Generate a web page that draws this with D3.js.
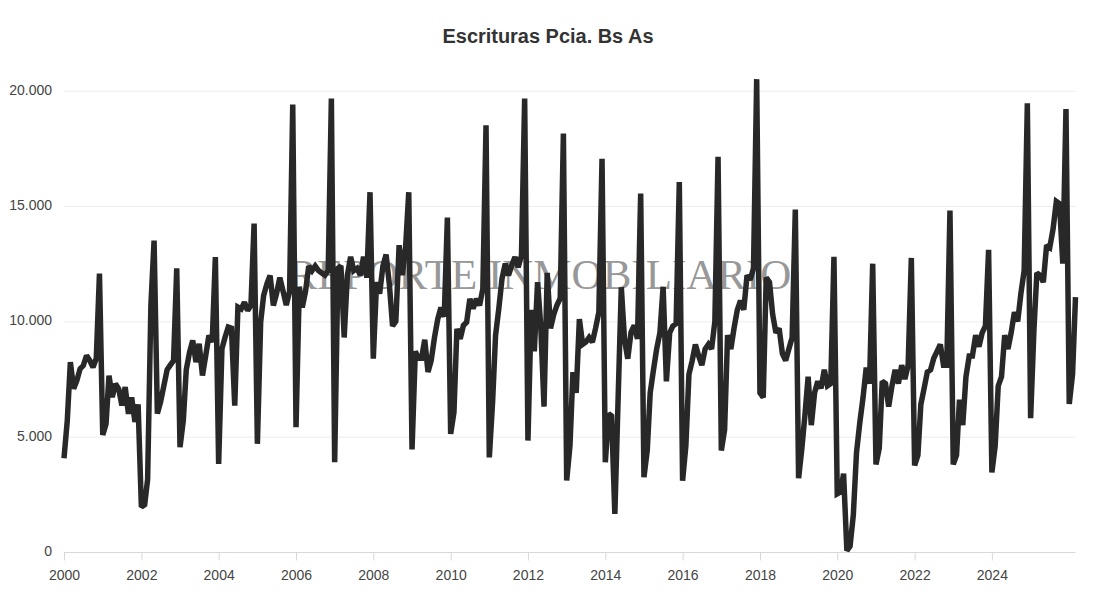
<!DOCTYPE html>
<html>
<head>
<meta charset="utf-8">
<script src="https://cdn.jsdelivr.net/npm/d3@7"></script>
<style>
  html, body { margin: 0; padding: 0; background: #ffffff; }
  svg { display: block; }
</style>
</head>
<body>
<svg id="chart" width="1095" height="607"></svg>
<script>
// ---- Data (monthly, Jan 2000 – Mar 2026) ----
const title = "Escrituras Pcia. Bs As";
const watermark = "REPORTE INMOBILIARIO";
const startYear = 2000;
const startMonth = 0; // January
const yTicks = [0, 5000, 10000, 15000, 20000];
const xTickYears = [2000, 2002, 2004, 2006, 2008, 2010, 2012, 2014, 2016, 2018, 2020, 2022, 2024];

const v2000_2004 = [
  4060, 5700, 8230, 7080, 7430, 7940, 8080, 8520, 8300, 8010, 8390, 12070,
  5080, 5550, 7650, 6710, 7290, 7070, 6350, 7150, 5990, 6700, 5640, 6400,
  1950, 2050, 3150, 10700, 13500, 6000, 6500, 7200, 7900, 8100, 8300, 12300,
  4540, 5700, 7900, 8660, 9170, 8230, 9030, 7650, 8520, 9390, 9100, 12790,
  3820, 8810, 9300, 9750, 9700, 6350, 10620, 10540, 10830, 10470, 10690, 14240
];
const v2005_2009 = [
  4690, 9960, 11120, 11630, 11990, 10690, 11200, 11900, 11300, 10700, 11300, 19400,
  5410, 11500, 10600, 11300, 12400, 12200, 12400, 12200, 12100, 12000, 12200, 19660,
  3890, 12300, 12400, 9300, 12000, 12800, 12200, 12300, 12000, 12800, 11900, 15600,
  8380, 11700, 11200, 12400, 12900, 11600, 9800, 10000, 13300, 12000, 13200, 15600,
  4450, 8700, 8400, 8400, 9200, 7800, 8300, 9300, 10100, 10600, 10200, 14500
];
const v2010_2014 = [
  5120, 6060, 9680, 9240, 9820, 9960, 10980, 10550, 10980, 10690, 11410, 18500,
  4100, 6500, 9390, 10560, 11850, 12500, 11990, 12430, 12790, 12350, 12860, 19660,
  4830, 10500, 8700, 11700, 9800, 6300, 12100, 9700, 10300, 10700, 11000, 18140,
  3100, 4600, 7800, 6900, 10100, 9000, 9100, 9300, 9100, 9700, 10400, 17050,
  3890, 5990, 5900, 1650, 6500, 11480, 9240, 8380, 9530, 9820, 9240, 15540
];
const v2015_2019 = [
  3240, 4400, 6900, 7900, 8800, 9500, 11500, 7400, 9500, 9800, 9900, 16040,
  3090, 4600, 7700, 8300, 9000, 8500, 8100, 8800, 9000, 8800, 10000, 17130,
  4400, 5300, 9400, 8800, 9700, 10500, 10900, 10500, 12000, 11800, 12300, 20500,
  6900, 6700, 11900, 11700, 10300, 9500, 9700, 8600, 8300, 8800, 9300, 14850,
  3200, 4500, 5900, 7600, 5500, 6900, 7400, 7100, 7900, 7200, 7300, 12800
];
const v2020_2026 = [
  2520, 2600, 3400, 60, 250, 1600, 4300, 5600, 6700, 8000, 7300, 12500,
  3800, 4500, 7400, 7300, 6300, 7200, 7900, 7300, 8100, 7500, 8100, 12750,
  3750, 4200, 6400, 7100, 7800, 7900, 8400, 8700, 9000, 8100, 8100, 14800,
  3800, 4200, 6600, 5500, 7600, 8500, 8500, 9400, 8900, 9500, 9800, 13100,
  3450, 4600, 7200, 7600, 9400, 8800, 9500, 10400, 10000, 11200, 12200, 19450,
  5800, 9600, 12100, 12000, 11700, 13300, 13200, 14000, 15200, 15100, 12500, 19200,
  6420, 7700, 11050
];

const values = [].concat(v2000_2004, v2005_2009, v2010_2014, v2015_2019, v2020_2026);
const data = values.map((v, i) => ({ date: new Date(startYear, startMonth + i, 1), value: v }));

// ---- Layout ----
const svg = d3.select("#chart");
const W = 1095, H = 607;
const plot = { left: 64, right: 1075.5, top: 90.7, bottom: 552 };

svg.append("rect").attr("width", W).attr("height", H).attr("fill", "#ffffff");

const x = d3.scaleTime()
  .domain([data[0].date, data[data.length - 1].date])
  .range([plot.left, plot.right]);
const y = d3.scaleLinear()
  .domain([0, 20000])
  .range([plot.bottom, plot.top]);

const fmt = v => d3.format(",")(v).replace(/,/g, ".");

// gridlines
svg.append("g").selectAll("line")
  .data(yTicks.filter(t => t > 0))
  .join("line")
  .attr("x1", plot.left).attr("x2", plot.right)
  .attr("y1", d => y(d) + 0.5).attr("y2", d => y(d) + 0.5)
  .attr("stroke", "#ececec").attr("stroke-width", 1);

// y labels
svg.append("g").selectAll("text")
  .data(yTicks)
  .join("text")
  .attr("x", 52)
  .attr("y", d => y(d) + 4)
  .attr("text-anchor", "end")
  .attr("font-family", "Liberation Sans, Arial, sans-serif")
  .attr("font-size", 14)
  .attr("fill", "#444")
  .text(d => fmt(d));

// x axis
const xAxis = d3.axisBottom(x)
  .tickValues(xTickYears.map(yr => new Date(yr, 0, 1)))
  .tickFormat(d3.timeFormat("%Y"))
  .tickSize(8)
  .tickPadding(10);
const gx = svg.append("g")
  .attr("transform", `translate(0,${plot.bottom + 0.5})`)
  .call(xAxis);
gx.select(".domain").attr("stroke", "#d8d8d8").attr("d", `M${plot.left},0H${plot.right}`);
gx.selectAll(".tick line").attr("stroke", "#d8d8d8");
gx.selectAll(".tick text")
  .attr("font-family", "Liberation Sans, Arial, sans-serif")
  .attr("font-size", 14)
  .attr("fill", "#444");

// watermark (under the line)
svg.append("text")
  .attr("x", 540)
  .attr("y", 289)
  .attr("text-anchor", "middle")
  .attr("font-family", "Liberation Serif, Times New Roman, serif")
  .attr("font-size", 43)
  .attr("fill", "#8a8a8a")
  .attr("fill-opacity", 0.9)
  .text(watermark);

// line
const line = d3.line()
  .x(d => x(d.date))
  .y(d => y(d.value));
svg.append("path")
  .datum(data)
  .attr("d", line)
  .attr("fill", "none")
  .attr("stroke", "#282828")
  .attr("stroke-width", 5.5)
  .attr("stroke-linejoin", "miter")
  .attr("stroke-miterlimit", 2);

// title
svg.append("text")
  .attr("x", 548)
  .attr("y", 43)
  .attr("text-anchor", "middle")
  .attr("font-family", "Liberation Sans, Arial, sans-serif")
  .attr("font-weight", "bold")
  .attr("font-size", 20)
  .attr("textLength", 211)
  .attr("lengthAdjust", "spacingAndGlyphs")
  .attr("fill", "#333")
  .text(title);
</script>
</body>
</html>
